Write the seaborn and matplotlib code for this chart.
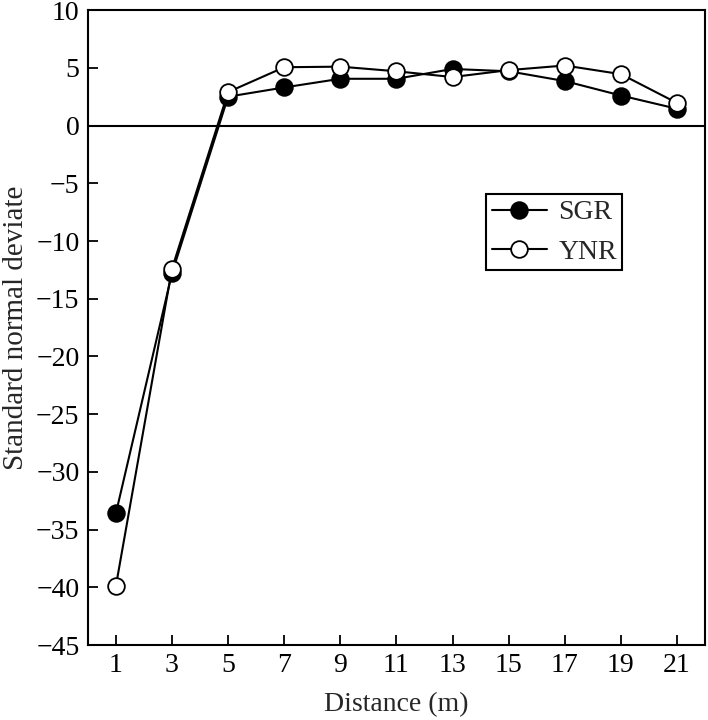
import matplotlib
matplotlib.use("Agg")
import matplotlib.pyplot as plt
import seaborn as sns
import pandas as pd

distance = [1, 3, 5, 7, 9, 11, 13, 15, 17, 19, 21]
sgr = [-33.6, -12.8, 2.5, 3.3, 4.05, 4.05, 4.9, 4.7, 3.85, 2.6, 1.45]
ynr = [-39.9, -12.4, 2.9, 5.05, 5.1, 4.7, 4.2, 4.8, 5.2, 4.45, 1.95]
x_ticks = [1, 3, 5, 7, 9, 11, 13, 15, 17, 19, 21]
y_ticks = [10, 5, 0, -5, -10, -15, -20, -25, -30, -35, -40, -45]

sns.set_style("ticks")
plt.rcParams['font.family'] = ['Liberation Serif', 'DejaVu Serif']
plt.rcParams['axes.unicode_minus'] = True

fig = plt.figure(figsize=(7.08, 7.2), dpi=100)
ax = fig.add_axes([0.124, 0.104, 0.872, 0.882])

df_s = pd.DataFrame({"Distance": distance, "Value": sgr})
df_y = pd.DataFrame({"Distance": distance, "Value": ynr})

ax.axhline(0, color="black", lw=1.5, zorder=1)

sns.lineplot(data=df_s, x="Distance", y="Value", ax=ax, color="black", lw=1.5,
             marker="o", markersize=12, markerfacecolor="black",
             markeredgecolor="black", markeredgewidth=1.3, label="SGR", zorder=3)
sns.lineplot(data=df_y, x="Distance", y="Value", ax=ax, color="black", lw=1.5,
             marker="o", markersize=12, markerfacecolor="white",
             markeredgecolor="black", markeredgewidth=1.3, label="YNR", zorder=4)

ax.set_xlim(0, 22)
ax.set_ylim(-45, 10)
ax.set_xticks(x_ticks)
ax.set_yticks(y_ticks)
ax.tick_params(direction="in", length=7, width=1.3, labelsize=20, colors="black")
ax.tick_params(axis="x", pad=6)
ax.tick_params(axis="y", pad=6)
for s in ax.spines.values():
    s.set_linewidth(1.5)
    s.set_color("black")

ax.set_xlabel("Distance (m)", fontsize=20, labelpad=10)
ax.set_ylabel("Standard normal deviate", fontsize=21, labelpad=5)

leg = ax.legend(loc="upper left", bbox_to_anchor=(0.645, 0.710), fontsize=20,
                frameon=True, fancybox=False, edgecolor="black",
                handlelength=2.0, borderpad=0.2, labelspacing=0.5,
                handletextpad=0.4, borderaxespad=0)
leg.get_frame().set_linewidth(1.5)
leg.get_frame().set_alpha(1)

fig.savefig("out.png", dpi=100)
